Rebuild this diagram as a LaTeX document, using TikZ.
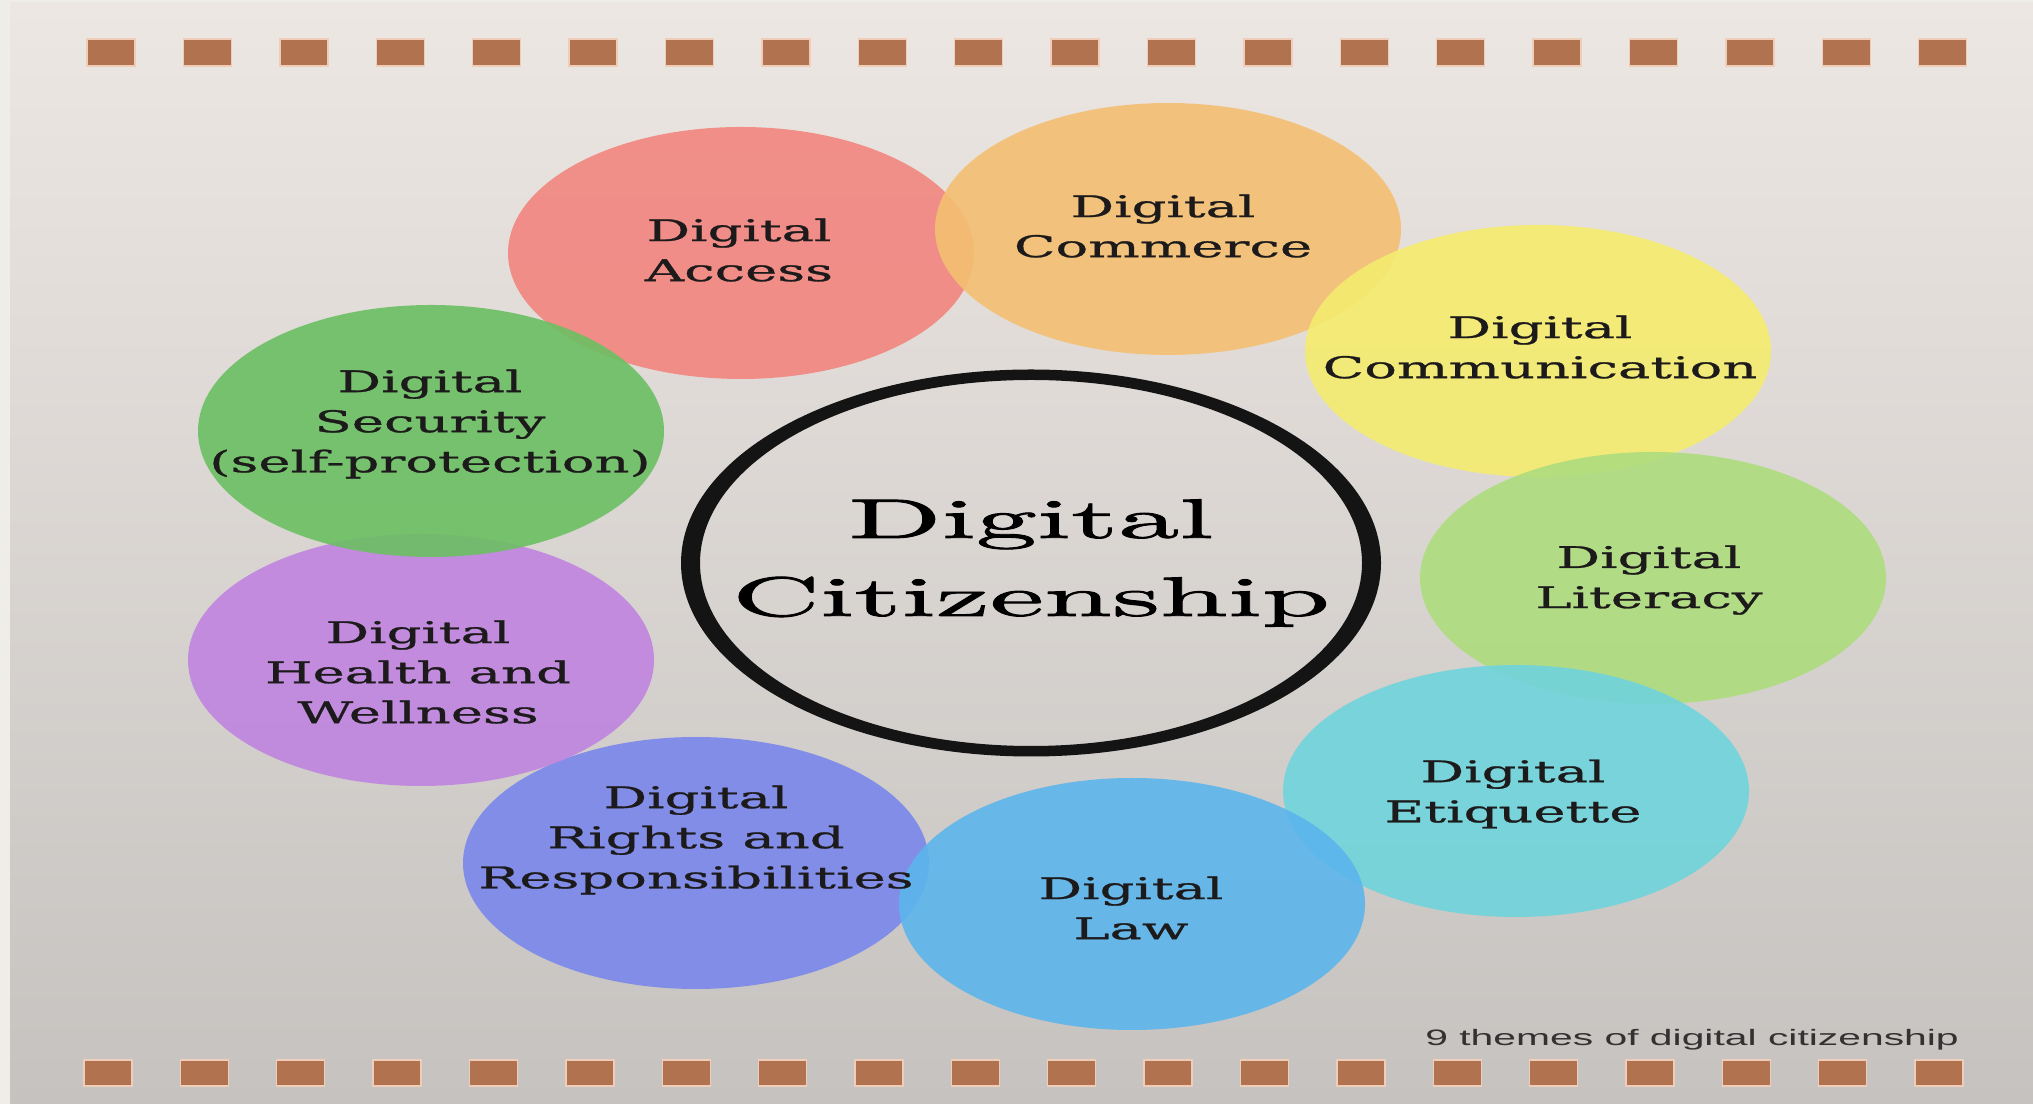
\documentclass[tikz,border=0pt]{standalone}
\usepackage{fontspec}
\usetikzlibrary{shapes.geometric}
\newfontfamily\bubblefont{DejaVu Serif}[FakeStretch=1.82,FakeBold=0.9]
\newfontfamily\hubfont{lmroman10-regular.otf}[FakeStretch=2.2,FakeBold=1.6]
\newfontfamily\notefont{Liberation Sans}[FakeStretch=1.83]

\definecolor{accesscol}{HTML}{F2857F}
\definecolor{commercecol}{HTML}{F4BF72}
\definecolor{commcol}{HTML}{F5EC6E}
\definecolor{literacycol}{HTML}{AEDC7E}
\definecolor{etiquettecol}{HTML}{6FD4DC}
\definecolor{lawcol}{HTML}{5CB5EC}
\definecolor{rightscol}{HTML}{7A87EB}
\definecolor{healthcol}{HTML}{C084E0}
\definecolor{securitycol}{HTML}{6BBF62}
\definecolor{bgtop}{HTML}{EDE7E3}
\definecolor{bgbottom}{HTML}{C5C2BF}
\definecolor{bgstrip}{HTML}{EFEDE8}
\definecolor{tickcol}{HTML}{B0724F}
\definecolor{tickglow}{HTML}{EFCDB8}
\definecolor{labelcol}{HTML}{1C1A1A}

\tikzset{
  bubble/.style={ellipse,minimum width=4.66cm,minimum height=2.52cm,inner sep=0pt,fill opacity=0.9},
  bubbletext/.style={align=center,text=labelcol,font=\bubblefont\fontsize{8.5}{11.4}\selectfont},
  tick/.style={fill=tickcol,draw=tickglow,line width=0.4pt}
}

\begin{document}
\begin{tikzpicture}[x=1cm,y=-1cm]

  \useasboundingbox (0,0) rectangle (20.33,11.04);
  \fill[bgstrip] (0,0) rectangle (20.33,11.04);
  \fill[top color=bgtop,bottom color=bgbottom] (0.10,0.03) rectangle (20.33,11.04);

  \foreach \i in {0,...,19} {
    \filldraw[tick] (0.87+0.964*\i,0.39) rectangle ++(0.48,0.27);
    \filldraw[tick] (0.84+0.9637*\i,10.60) rectangle ++(0.48,0.26);
  }

  \draw (7.41,2.53) node[bubble,fill=accesscol] (access) {};
\draw (11.68,2.29) node[bubble,fill=commercecol] (commerce) {};
\draw (15.38,3.51) node[bubble,fill=commcol] (comm) {};
\draw (16.53,5.78) node[bubble,fill=literacycol] (literacy) {};
\draw (15.16,7.91) node[bubble,fill=etiquettecol] (etiquette) {};
\draw (6.96,8.63) node[bubble,fill=rightscol] (rights) {};
\draw (11.32,9.04) node[bubble,fill=lawcol] (law) {};
\draw (4.21,6.60) node[bubble,fill=healthcol] (health) {};
\draw (4.31,4.31) node[bubble,fill=securitycol] (security) {};

  \draw (10.31,5.63) node[ellipse,minimum width=7.0cm,minimum height=3.87cm,inner sep=0pt] (hub) {};
  \fill[black!92,even odd rule] (hub.center) ellipse [x radius=3.50,y radius=1.935]
    (hub.center) ellipse [x radius=3.31,y radius=1.83];

  \draw (7.39,2.50) node[bubbletext] (accesstext) {Digital\\Access};
  \draw (11.63,2.26) node[bubbletext] (commercetext) {Digital\\Commerce};
  \draw (15.40,3.47) node[bubbletext] (commtext) {Digital\\Communication};
  \draw (16.49,5.80) node[bubbletext] (literacytext) {Digital\\Literacy};
  \draw (15.13,7.94) node[bubbletext] (etiquettetext) {Digital\\Etiquette};
  \draw (11.31,9.08) node[bubbletext] (lawtext) {Digital\\Law};
  \draw (6.96,8.40) node[bubbletext] (rightstext) {Digital\\Rights and\\Responsibilities};
  \draw (4.18,6.72) node[bubbletext] (healthtext) {Digital\\Health and\\Wellness};
  \draw (4.30,4.24) node[bubbletext] (securitytext) {Digital\\Security\\(self-protection)};

  \draw (hub.center) node[align=center,font=\hubfont\fontsize{15.8}{22.2}\selectfont] (hubtext) {Digital\\Citizenship};

  \draw (16.92,10.45) node[anchor=base,text=labelcol!90,font=\notefont\fontsize{6.35}{7.6}\selectfont] (note) {9 themes of digital citizenship};

\end{tikzpicture}
\end{document}
